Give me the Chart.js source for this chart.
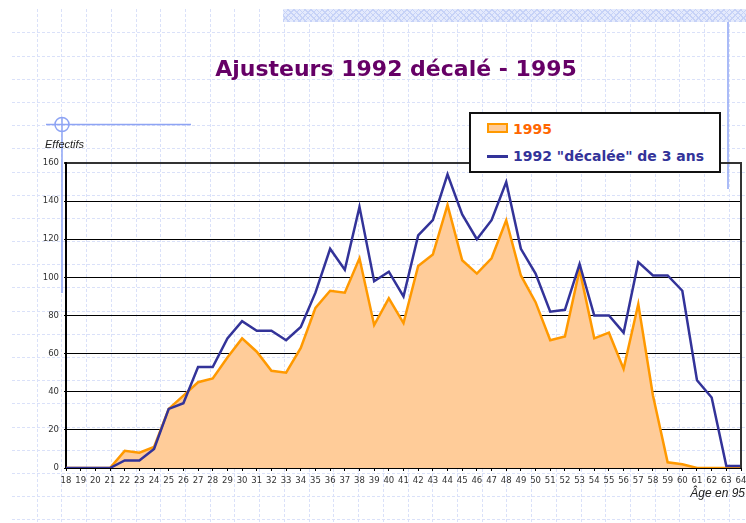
<!DOCTYPE html>
<html lang="fr">
<head>
<meta charset="UTF-8">
<title>Ajusteurs 1992 décalé - 1995</title>
<script src="https://cdn.jsdelivr.net/npm/chart.js"></script>
<style>
  html, body { margin: 0; padding: 0; background: #fff; }
  body { position: relative; width: 746px; height: 523px; overflow: hidden; font-family: "DejaVu Sans", sans-serif; }
  #bg, #chart { position: absolute; left: 0; top: 0; }
  .strip {
    position: absolute; left: 283px; top: 9px; width: 463px; height: 13px;
    background-color: #e4eafc;
    background-image:
      repeating-linear-gradient(45deg, #c6d2f7 0 1px, transparent 1px 4px),
      repeating-linear-gradient(-45deg, #c6d2f7 0 1px, transparent 1px 4px);
  }
  .title {
    position: absolute; left: 396px; top: 58px; transform: translateX(-50%);
    white-space: nowrap; font: bold 22px/22px "DejaVu Sans", sans-serif; color: #660066;
  }
  .axis-title { position: absolute; font: italic 11px/11px "Liberation Sans", Arial, sans-serif; color: #222; white-space: nowrap; }
  #legend {
    position: absolute; left: 469px; top: 112px; width: 248px; height: 57px;
    border: 2px solid #111; background: #fff;
  }
  #legend .item { position: absolute; left: 42px; font: bold 14px/14px "DejaVu Sans", sans-serif; white-space: nowrap; }
  #legend .swatch { position: absolute; left: 16px; }
</style>
</head>
<body>
<canvas id="bg" width="746" height="523"></canvas>
<div class="strip"></div>
<div class="title">Ajusteurs 1992 décalé - 1995</div>
<canvas id="chart" width="746" height="523"></canvas>
<div class="axis-title" style="left:45px; top:139px;">Effectifs</div>
<div class="axis-title" style="right:1px; top:487px; font-size:12px; line-height:12px;">Âge en 95</div>
<div id="legend"></div>

<script>
  // ages (x categories)
  const ages = ['18', '19', '20', '21', '22', '23', '24', '25', '26', '27', '28', '29', '30', '31', '32', '33',
    '34', '35', '36', '37', '38', '39', '40', '41', '42', '43', '44', '45', '46', '47', '48', '49', '50', '51',
    '52', '53', '54', '55', '56', '57', '58', '59', '60', '61', '62', '63', '64'];

  const label1995 = '1995';
  const label1992 = '1992 "décalée" de 3 ans';

  const effectifs1995 = [0, 0, 0, 0, 9, 8, 11, 31, 38, 45, 47, 58, 68, 61, 51, 50,
    63, 84, 93, 92, 110, 75, 89, 76, 106, 112, 138, 109, 102, 110, 130, 101, 87, 67,
    69, 104, 68, 71, 52, 86, 38, 3, 2, 0, 0, 0, 0];

  const effectifs1992 = [0, 0, 0, 0, 4, 4, 10, 31, 34, 53, 53, 68, 77, 72, 72, 67,
    74, 92, 115, 104, 137, 98, 103, 90, 122, 130, 154, 133, 120, 130, 150, 115, 102, 82,
    83, 107, 80, 80, 71, 108, 101, 101, 93, 46, 37, 1, 1];

  const yTicks = [0, 20, 40, 60, 80, 100, 120, 140, 160];

  // slide background: dashed blue grid + decorations
  const bg = document.getElementById('bg').getContext('2d');
  bg.strokeStyle = '#dae1f9';
  bg.lineWidth = 1;
  bg.setLineDash([3, 2]);
  for (let x = 36.7; x < 746; x += 24.72) {
    bg.beginPath(); bg.moveTo(Math.round(x) + 0.5, 9); bg.lineTo(Math.round(x) + 0.5, 523); bg.stroke();
  }
  for (let y = 32.3; y < 523; y += 23.2) {
    bg.beginPath(); bg.moveTo(12, Math.round(y) + 0.5); bg.lineTo(746, Math.round(y) + 0.5); bg.stroke();
  }
  bg.setLineDash([]);
  bg.strokeStyle = '#8ea4f4';
  bg.lineWidth = 1.5;
  bg.beginPath(); bg.moveTo(728, 9); bg.lineTo(728, 189); bg.stroke();
  bg.beginPath(); bg.moveTo(46, 124.5); bg.lineTo(191, 124.5); bg.stroke();
  bg.beginPath(); bg.moveTo(62, 118); bg.lineTo(62, 293); bg.stroke();
  bg.beginPath(); bg.arc(62, 124.5, 7, 0, Math.PI * 2); bg.stroke();

  const tickFont = { family: 'DejaVu Sans', size: 8.5 };

  // right border of the plot area
  const frame = {
    id: 'frame',
    afterDatasetsDraw(c) {
      const { ctx, chartArea: a } = c;
      ctx.save();
      ctx.strokeStyle = '#333';
      ctx.lineWidth = 2;
      ctx.beginPath(); ctx.moveTo(a.right, a.top - 1); ctx.lineTo(a.right, a.bottom); ctx.stroke();
      ctx.restore();
    }
  };

  const chart = new Chart(document.getElementById('chart'), {
    type: 'line',
    data: {
      labels: ages,
      datasets: [{
        label: label1995,
        data: effectifs1995,
        borderColor: '#FF9900',
        backgroundColor: '#FFCC99',
        borderWidth: 2.5,
        fill: 'origin',
        pointRadius: 0,
        tension: 0,
        order: 2
      }, {
        label: label1992,
        data: effectifs1992,
        borderColor: '#333399',
        borderWidth: 2.5,
        fill: false,
        pointRadius: 0,
        tension: 0,
        order: 1
      }]
    },
    options: {
      responsive: false,
      animation: false,
      layout: { padding: { top: 163, right: 5, left: 0, bottom: 0 } },
      plugins: { legend: { display: false }, tooltip: { enabled: false } },
      scales: {
        x: {
          offset: false,
          grid: { drawOnChartArea: false, drawTicks: true, tickLength: 3, color: '#000' },
          border: { color: '#000', width: 2 },
          ticks: { autoSkip: false, maxRotation: 0, padding: 5, color: '#333', font: tickFont },
          afterFit: s => { s.height = 55; s.paddingRight = 0; s.paddingLeft = 0; }
        },
        y: {
          min: 0, max: 160,
          afterBuildTicks: s => { s.ticks = yTicks.map(v => ({ value: v })); },
          grid: {
            color: c => c.tick && c.tick.value === 160 ? '#333' : '#000',
            lineWidth: c => c.tick && c.tick.value === 160 ? 2 : 1,
            tickLength: 2
          },
          border: { color: '#000', width: 2 },
          ticks: { padding: 5, color: '#333', font: tickFont },
          afterFit: s => { s.width = 66; }
        }
      }
    },
    plugins: [frame]
  });

  // legend box
  const legend = document.getElementById('legend');
  legend.innerHTML =
    '<div class="swatch" style="top:9px; width:17px; height:6px; background:#FFCC99; border:2px solid #FF9900;"></div>' +
    '<div class="item" style="top:8px; color:#FF6600;"></div>' +
    '<div class="swatch" style="top:41px; width:21px; height:3px; background:#333399;"></div>' +
    '<div class="item" style="top:35px; color:#333399;"></div>';
  const items = legend.querySelectorAll('.item');
  items[0].textContent = chart.data.datasets[0].label;
  items[1].textContent = chart.data.datasets[1].label;
</script>
</body>
</html>
